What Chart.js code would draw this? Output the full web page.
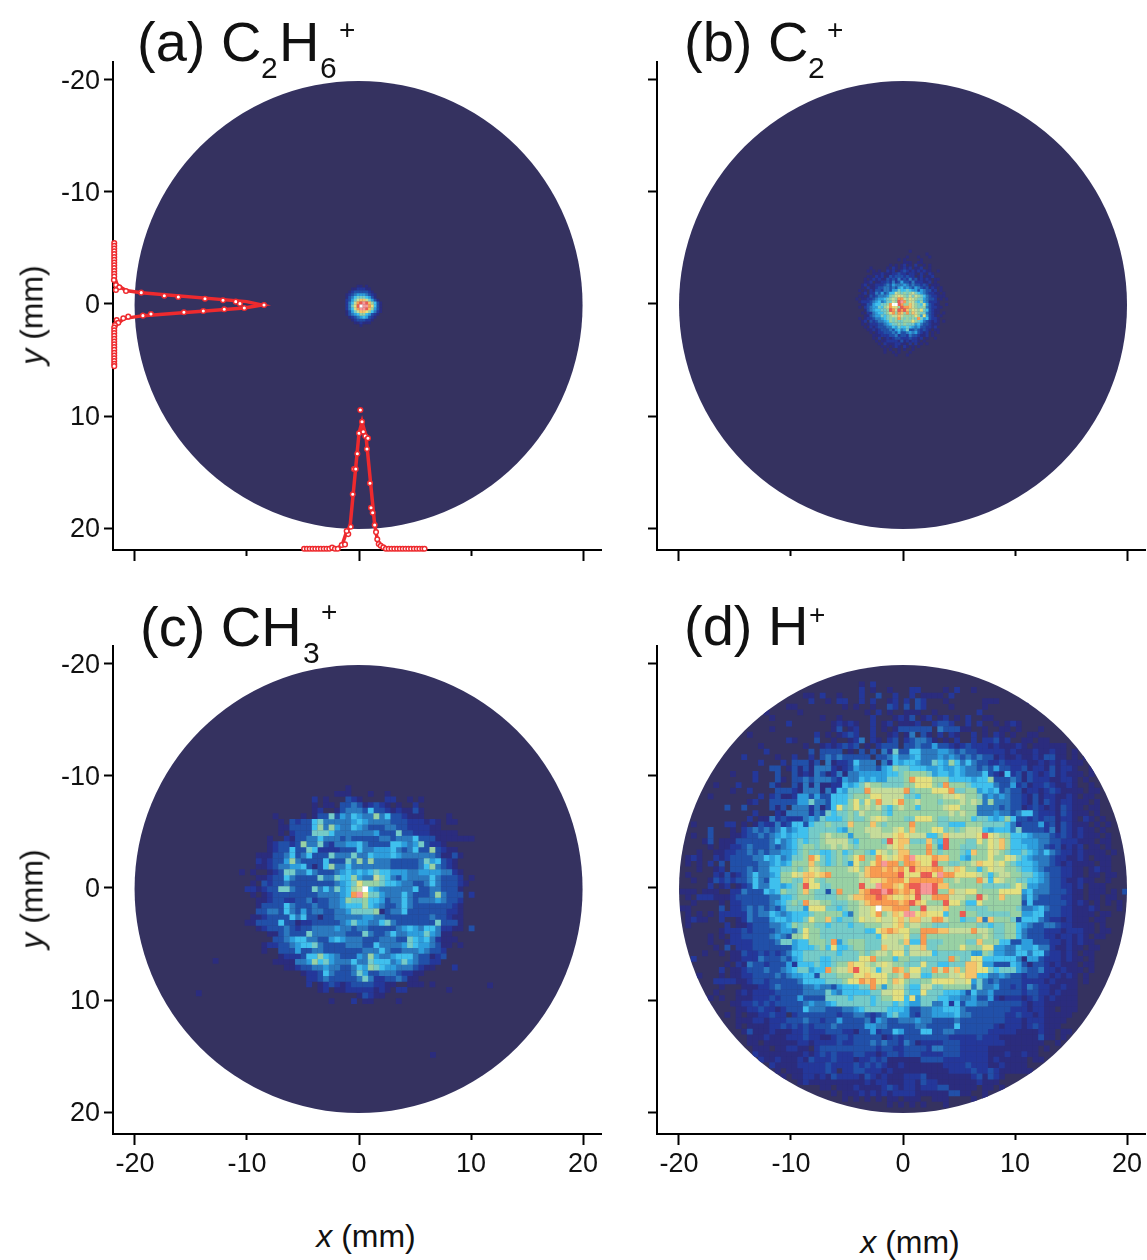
<!DOCTYPE html>
<html><head><meta charset="utf-8">
<style>
html,body{margin:0;padding:0;background:#fff;overflow:hidden;width:1147px;height:1260px;font-family:"Liberation Sans",Arial,sans-serif;color:#111}
canvas{position:absolute}
.t{position:absolute;white-space:pre;line-height:normal;z-index:5}
.r{position:absolute;white-space:pre;transform:translate(-50%,-50%) rotate(-90deg);font-size:32px;z-index:5}
.c{position:absolute;white-space:pre;transform:translate(-50%,-50%);font-size:32px;z-index:5}
</style>
<script src="https://cdn.jsdelivr.net/npm/chart.js@4/dist/chart.umd.js"></script>
</head><body>
<canvas id="pa"></canvas><canvas id="pb"></canvas><canvas id="pc"></canvas><canvas id="pd"></canvas>
<script>
const xTicks=[-20,-10,0,10,20];
const yTicks=[-20,-10,0,10,20];
const xMajorTicks=[-20,0,20];
const xMinorTicks=[-10,10];
const levelColors=["#353260","#2b2c7e","#24379a","#2150a9","#2b79bf","#2d9edd","#3fc0ee","#75cbc8","#98d1a4","#c6dc9a","#e4e07f","#f5c36a","#f89a50","#ec5c53","#f79898","#ffffff"];
const discColor=levelColors[0];
const redColor="#ee2a2e";

const heatA=[
"0000000000000000","0000001101000000","0000112221100000","0001233333210000",
"0012345554321000","0013467776531000","0023579bb9753100","002469cdedb86310",
"00247adfeeca6310","002469ceedb85310","0013579bba864210","0013456886532100",
"0001234565321000","0000123332210000","0000011211100000","0000000100000000"];

const heatB=[
"0000000000 0000000000 0100000000 000000000",
"0000000000 0000000000 0000000100 000000000",
"0000000000 0000000000 1000100010 000000000",
"0000000000 0000000101 0000010000 000000000",
"0000000000 0000000001 1100110000 000000000",
"0000000000 0000101012 0102001010 000000000",
"0000000100 0001021012 1201120010 000000000",
"0000001010 1002120123 2121212110 010000000",
"0000000011 1211122322 1221021021 000000000",
"0000001102 1201323332 3220120112 000000000",
"0000010121 2113232423 2423121210 110000000",
"0000011201 1223242353 3242221120 100000000",
"0000120112 2234354445 4343323201 110000000",
"0000102112 3344343564 5435432312 101000000",
"0001010213 3244355766 7655354331 201000000",
"0000120224 3534669878 7897654322 110100000",
"0001101323 4445789a98 7979876432 211100000",
"0010112234 5567898cc9 8a98775433 201010000",
"0001222345 6457798dec 8997685422 210000000",
"0000113356 6778cffdc8 8b98769532 110010000",
"0001023455 7689caa8dc cb98778432 211000000",
"0000013456 6778dc9dcd b8a98a7632 110000000",
"0000102245 6678ac8cb8 c8b9877432 110100000",
"0000011345 5767899b98 888a85a532 101000000",
"0001012234 4567878c87 8787c75632 210000000",
"0000120323 4456878778 88a8764321 210100000",
"0000101222 3345677878 7775643321 110000000",
"0000010212 3334465766 7654533221 200000000",
"0000001121 2333435645 7334323210 110000000",
"0000000101 2233343533 4545321201 010000000",
"0000000011 1222334233 2433211201 000000000",
"0000000010 2012123322 2322120100 100000000",
"0000000001 0112222131 2122101000 000000000",
"0000000000 1021112211 0202010100 000000000",
"0000000000 0101012102 1010100000 000000000",
"0000000000 0010100101 0010000000 000000000",
"0000000000 0010010100 0100000000 000000000",
"0000000000 0000001000 1000000000 000000000"];

const heatC=[
"0000000000 0000000001 0000000000 0000000000 000",
"0000000000 0000000111 0001001000 0000000000 000",
"0000000000 0002010003 2100002200 1010000000 000",
"0000000000 0001011033 4312321010 0200000000 000",
"0000000000 0001200134 4436332121 1310000000 000",
"0000001000 0101337354 6544846332 1110000100 000",
"0000000103 2336744444 5654444333 2221210110 000",
"0000000113 3336848544 6543334433 2222110000 000",
"0000000102 3337776444 4444533373 3222111110 000",
"0000010021 3344644434 3333344344 4633311111 110",
"0000012332 3844732445 5643333665 4573221000 000",
"0000012336 3376222233 3644555643 4633832110 000",
"0001113346 3463337444 7446555654 4444431131 000",
"0002123358 4333363337 4848444333 3347563210 000",
"0001123445 5631368446 4444444333 3346843210 000",
"1010012377 4464333456 5656766555 4455554421 000",
"0001123364 3333744766 8544976435 4444643332 010",
"0010323343 3333333456 7a88876654 4334643332 100",
"0221233774 3337464756 89f6544444 4633443331 000",
"0010123333 3333444456 cea7754446 4333484333 020",
"0001123322 3342334458 7786653446 4344454332 000",
"0001333364 3334334456 6686543346 4333333321 000",
"0003344364 3534433445 7777813446 3333333221 000",
"0011233336 4633133444 4455443333 3333433211 000",
"0113333633 1223333345 7554467433 3333373331 000",
"0001233343 2334444544 3443333345 6546642211 030",
"0000011343 3374444443 3374334644 5557541100 000",
"0000003345 6644335654 4433344433 7656421110 000",
"0000122334 5667433334 4433644445 7655431101 000",
"0000100333 5334433333 3344464334 4454332000 000",
"0000000122 2366865433 3548544566 6433123000 000",
"0000001111 4458675444 6447666457 5433220000 000",
"0000000011 2334454433 4658765544 4321100020 000",
"0000000000 0122364333 4753344432 2110000000 000",
"0000000000 0022343333 3474223343 1100000000 000",
"0000000000 0020123212 3333221100 1110100000 000",
"0000000000 0000120112 2222121022 0000000100 000",
"0000000000 0000000000 0132110000 0000000000 000",
"0000000000 0000001000 2011000010 0000000000 000"];
const outliersCx=[-14.3,-12.8,6.6,11.7];
const outliersCy=[9.4,6.5,14.9,8.7];

const heatD=[
"0000000000 0000000000 0000000000 0000000000 0000000000 0000000000 0000000000 0000000000",
"0000000000 0000000000 0000000000 0000000000 0000000000 0000000000 0000000000 0000000000",
"0000000000 0000000000 0000000000 0000000000 0000000000 0000000000 0000000000 0000000000",
"0000000000 0000000000 0000000000 0010200000 0000000000 0000000000 0000000000 0000000000",
"0000000000 0000000000 0000000000 0020100100 0220000102 0010000000 0000000000 0000000000",
"0000000000 0000000000 0011020010 0020030020 0201111020 0000000000 0000000000 0000000000",
"0000000000 0000000000 0002001022 0020200120 2032000100 0000111000 0010000000 0000000000",
"0000000000 0000000001 1000000001 0100100320 3032000010 0000100000 0000000000 0000000000",
"0000000000 0000010000 0100000000 0001020100 1110010000 0002000000 0000000000 0000000000",
"0000000000 0000001000 0000010010 0000200012 1301201201 0200110000 0000000000 0000000000",
"0000000000 0000000002 0000000121 2100201201 1120023320 0202001012 1000000000 0000000000",
"0000000000 0000001000 0000000130 1200201013 3333304333 1100100110 1000100000 0000000000",
"0000000000 0010000000 0000201012 3200200120 1403102021 0020102101 0011000000 0000000000",
"0000000000 0000000002 1000300100 1240210230 2344310102 0020223120 0110110000 0000000000",
"0000000000 0000100000 0010012123 2301023330 3343353321 2322212111 2101111110 0000000000",
"0000000000 0000020000 0003033330 1030304273 3664445543 4332222212 1112112110 1000000000",
"0000000000 0200000100 2002034343 3333033464 4564445454 3434331211 2112133110 1010000000",
"0000000000 0000200020 3331304122 3644404265 6654476586 4643322322 2211212121 1100000000",
"0000000000 0000003301 3131444212 3544435687 7666556556 5443435332 2312213122 1001010000",
"0000000001 0002000300 3121431241 4455555667 8888756656 5444632162 3132123121 1101000000",
"0000000000 0002000310 3343444325 4465655777 8caaa88866 6656683334 3132221122 1010000000",
"0000001000 2000003100 3141411226 5679887777 88aaa87c88 8766664335 2312232112 1001000000",
"0000000001 0020000333 2144414265 777c999999 c7888aaac7 7885656343 3122123211 1101100000",
"0000010000 0000202311 2553533666 7888aa9999 776888899a 9887454543 3213122112 1011000000",
"0000000000 0012003333 3557443666 8a7a8c99ac 8898887888 9898484443 3213132122 1110100000",
"0000000030 0300003130 44424136a7 8a89897689 88688889aa 8884444343 3123212132 1101100000",
"0000000000 0002000214 4442437677 8798887688 8888888898 9884445443 4663222132 1110100000",
"0000000000 0020114232 2245476667 87789a9888 77aaa87788 8867765686 3323233122 1021010000",
"0010000022 0101322423 6636778777 b888b87888 8c88887766 6888777764 2333523132 1110101000",
"0000030001 0234343464 5667777765 888999889a 8b888aa787 8999656664 7333324132 1211010000",
"0010030001 1233434565 6667789888 58889999ab a999668b99 999ada9886 6654443232 1211101000",
"0000130111 3333334645 6767789999 7688887dab b777b76d88 877a8a9b86 6555443322 2111011000",
"0000010112 2343334345 6788788989 87888889ab 9888c85d88 77788a9b86 6655432312 1201101000",
"0001001122 3343434455 6787766786 78876a989b b888c87888 76b88a9876 6765464322 1211110100",
"0121002123 3334465645 778ca76787 8ac88ca9ab ceaaacbb88 65888a88a9 7654443221 1210111000",
"0101020303 3333445656 888b876787 5a88acecc8 ccbaad8877 889baa9a87 6665443212 1111011000",
"0001001203 3343446677 878a988888 9a8bccbcbc adbbbcc99b a8868a9988 7665433322 1101211000",
"0100002131 2346445688 a9bbabc888 889bcccccd aaaddaecca aaa9868998 8776543322 1101101100",
"0010013232 3346436688 77ba878888 8899aabccc acccccc889 888c96a988 7766543321 1211001000",
"0000020120 1236446656 78daa77888 88d99eccba cddeedbb88 8888777778 a855443322 1201110000",
"1110111002 2433365687 78b87737c8 88bcddedcb cbdeed88b9 9aa8888aaa a564443332 1101110103",
"0102221112 3333334466 7888777788 9bbccdcbaa bad99ccc99 988d988b88 8464333322 1101101100",
"0010000102 2333334567 87c9988777 889bcccccb cdba888daa 866a888888 8363333332 1210101010",
"1100000302 2343434357 775aaa7767 8899afbbcc c88d999b88 8777788888 7445643322 1112100010",
"0101010222 2243446545 6667888886 4899ac89ba eeabaaa688 d887777778 8556633322 1111011000",
"0121100200 1243335665 667a88b767 78a99a99ab 9bb99cc988 677b4b8887 3666432212 1110110000",
"0100000020 1123334456 8788776777 67788899ab 8998877788 8887767788 6543344322 1111010000",
"0000000122 2323333455 47a8877777 77766abcba a88cccbb99 99c9987788 6433322212 2211011000",
"0000010102 2333334543 88a8877777 777776a999 a77c888888 8888987788 6433322122 1210110000",
"0000010012 2223333477 5668887c57 8887779998 b66c777888 877b888663 3553332212 1211000000",
"0000001030 2223333333 5666786a66 788777b999 799b778888 a888aa5544 6556442112 1101100000",
"0000100101 1322323234 6677777767 77878998aa 7999967777 7755875544 6646632212 1011000000",
"0020000001 1222433343 5677766777 77aac88868 87777777c8 77aa666666 4155322212 1101000000",
"0000000010 2143323335 2666766788 baa989a988 777a776677 7bba553336 5313321211 1011000000",
"0000000201 1233343345 677566c899 bdaa9699cb 8aa77c9c9b 8bbaa76777 5433422121 1101000000",
"0001000101 1223333434 5566377788 8aabaaa889 c996688899 abb6644543 3233221212 1010000000",
"0000002222 1123323333 3466667778 aacbcaa8ba 87788aaaa9 9a57434333 3222212111 1010000000",
"0000000100 0111223433 3344544356 6677c85899 7669977888 8847445332 3243221121 1000000000",
"0000001000 1212222333 3344447546 66667799aa 766a777666 5364453333 3233221211 1000000000",
"0000010100 1112223233 3533337777 67776788aa 6a57776655 4453352122 2123212111 1000000000",
"0000000001 1223232333 3345445677 7777677767 6557744626 3554433333 3212211111 1000000000",
"0000100000 1122322123 3364443334 4567777666 5334455666 4333333332 2212211011 1000000000",
"0000000010 1011223220 2333333323 3443234675 5324455556 4433333322 3221211111 0000000000",
"0000000000 1112212223 3343323353 3334254334 4454433334 3333333322 2122211110 0000000000",
"0000000000 1011112232 3232333433 3335544333 3344333336 3333332122 2123211100 0000000000",
"0000000000 0131112111 2232223332 2133523365 3336633443 3333322222 1111211011 0000000000",
"0000000000 0011121112 2232211233 2333331232 3333333322 2223222111 1111311010 0000000000",
"0000000000 0011011111 1221222232 2333434332 4312222333 2222222211 1111100100 0000000000",
"0000000000 0001110112 2110233333 3333323322 3333244333 2222211111 1111010000 0000000000",
"0000000000 0002111111 1121232322 2332212332 3332222333 2222211121 1211000000 0000000000",
"0000000000 0000211211 1213222322 2122323111 1113333222 2222212111 1101100100 0000000000",
"0000000000 0000002111 1222223222 2323232112 1111111222 2322211211 1100000000 0000000000",
"0000000000 0000000101 1122223202 2332221211 1111111122 2232232111 1110000000 0000000000",
"0000000000 0000000010 1122121322 2213212111 2223111111 1123132100 0000000000 0000000000",
"0000000000 0000000000 0121111111 1112122111 2213221111 1112111000 0000000000 0000000000",
"0000000000 0000000000 0000011011 1211112321 2212223311 1110110100 0000000000 0000000000",
"0000000000 0000000000 0000000101 1121212122 2211111133 1100100000 0000000000 0000000000",
"0000000000 0000000000 0000000001 0101010110 1110011100 0010100000 0000000000 0000000000",
"0000000000 0000000000 0000000000 0000000101 0101000100 0000000000 0000000000 0000000000"];

const sideXpts=[-21.85,-21.85,-21.85,-21.85,-21.85,-21.85,-21.85,-21.85,-21.85,-21.85,-21.85,-21.85,-21.85,-21.88,-21.7,-21.4,-21.7,-20.8,-19.44,-17.38,-16.13,-13.75,-12.14,-11.0,-10.63,-8.48,-10.24,-12.03,-13.9,-15.63,-18.57,-19.29,-20.6,-21.04,-21.63,-21.49,-21.79,-21.85,-21.85,-21.85,-21.85,-21.85,-21.85,-21.85,-21.85,-21.85,-21.85,-21.85,-21.85,-21.85,-21.85,-21.85];
const sideYpts=[-5.45,-5.2,-4.95,-4.7,-4.45,-4.2,-3.95,-3.7,-3.45,-3.2,-2.95,-2.7,-2.45,-2.14,-1.7,-1.49,-1.25,-1.16,-1.01,-0.74,-0.63,-0.47,-0.33,-0.21,-0.03,0.09,0.36,0.47,0.63,0.74,0.89,1.04,1.13,1.28,1.43,1.67,1.88,2.1,2.35,2.6,2.85,3.1,3.35,3.6,3.85,4.1,4.35,4.6,4.85,5.1,5.35,5.55];
const sideXfit=[-21.85,-21.85,-21.6,-20.8,-19.44,-10.03,-8.66,-10.24,-19.26,-21,-21.7,-21.85,-21.85];
const sideYfit=[-5.45,-2.6,-1.7,-1.2,-1.01,-0.21,0.09,0.36,1.04,1.3,1.9,2.6,5.55];
const baseXpts=[-4.9,-4.65,-4.4,-4.15,-3.9,-3.65,-3.4,-3.15,-2.9,-2.65,-2.4,-2.15,-1.9,-1.54,-1.25,-0.96,-1.1,-0.74,-0.56,-0.45,-0.29,-0.15,0,0.27,0.12,0.38,0.56,0.8,0.71,0.98,1.07,1.22,1.4,1.52,1.63,1.76,1.94,2.17,2.4,2.65,2.9,3.15,3.4,3.65,3.9,4.15,4.4,4.65,4.9,5.15,5.4,5.65,5.85];
const baseYpts=[21.85,21.85,21.85,21.85,21.85,21.85,21.85,21.85,21.85,21.85,21.75,21.85,21.85,21.52,21.46,20.54,20.27,19.88,16.99,14.73,14.73,13.37,11.54,10.51,9.46,11.4,11.79,11.99,12.95,16.0,18.19,18.63,19.73,20.36,21.0,21.43,21.58,21.72,21.85,21.85,21.85,21.85,21.85,21.85,21.85,21.85,21.85,21.85,21.85,21.85,21.85,21.85,21.85];
const baseXfit=[-4.9,-2,-1.5,-1.1,-0.8,0,0.27,0.63,1.4,1.63,1.9,2.4,5.85];
const baseYfit=[21.85,21.85,21.5,20.3,19.88,11.54,10.51,11.85,19.73,21,21.58,21.85,21.85];

const pxPerMm=11.2, discRadiusMm=20, axisMinLow=-21.96, axisMaxHigh=21.6, axisMinTop=-21.6, axisMaxBottom=21.96;
const tickFont={family:'"Liberation Sans",Arial,sans-serif',size:27};

const circleClip={id:'circleClip',
  beforeDatasetDraw(chart,args){
    const d=chart.data.datasets[args.index];
    if(!d.discClip)return;
    const c=chart.ctx,x=chart.scales.x,y=chart.scales.y;
    c.save();c.beginPath();
    c.arc(x.getPixelForValue(d.discClip[0]),y.getPixelForValue(d.discClip[1]),discRadiusMm*pxPerMm,0,Math.PI*2);
    c.clip();
  },
  afterDatasetDraw(chart,args){
    const d=chart.data.datasets[args.index];
    if(d.discClip)chart.ctx.restore();
  }};

function heatDatasets(rows,stepMm,startCol,startRow,center,extra){
  const byLevel=levelColors.map(()=>[]);
  rows.forEach((row,r)=>{
    const s=row.replace(/\s/g,'');
    for(let c=0;c<s.length;c++){
      const lv=parseInt(s[c],16);
      if(lv>0)byLevel[lv].push({x:-20+(startCol+c+.5)*stepMm,y:-20+(startRow+r+.5)*stepMm});
    }
  });
  if(extra)extra.x.forEach((v,i)=>byLevel[1].push({x:v,y:extra.y[i]}));
  const side=(stepMm*pxPerMm+0.25)/Math.SQRT2;
  return byLevel.map((pts,lv)=>({data:pts,showLine:false,pointStyle:'rect',pointRadius:side,pointBorderWidth:0,
    pointBackgroundColor:levelColors[lv],discClip:center,clip:false,order:50-lv})).filter(d=>d.data.length);
}
function zipXY(xs,ys){return xs.map((v,i)=>({x:v,y:ys[i]}));}

function makeChart(id,left,top,showX,showY,rows,step,startCol,startRow,center,extra,lines){
  const el=document.getElementById(id);
  const W=620,H=600;
  el.width=W;el.height=H;
  el.style.left=left+'px';el.style.top=top+'px';el.style.width=W+'px';el.style.height=H+'px';
  const disc={data:[{x:center[0],y:center[1]}],showLine:false,pointStyle:'circle',pointRadius:discRadiusMm*pxPerMm,pointBorderWidth:0,
    pointBackgroundColor:discColor,clip:false,order:100};
  new Chart(el,{type:'scatter',plugins:[circleClip],
    data:{datasets:[disc,...heatDatasets(rows,step,startCol,startRow,center,extra),...lines]},
    options:{responsive:false,animation:false,events:[],devicePixelRatio:1,
      layout:{autoPadding:false,padding:{left:0,top:62,right:19,bottom:0}},
      plugins:{legend:{display:false},title:{display:false},tooltip:{enabled:false}},
      scales:{
        x:{type:'linear',min:axisMinLow,max:axisMaxHigh,
          afterBuildTicks:s=>{s.ticks=xTicks.map(v=>({value:v}));},
          afterFit:s=>{s.height=50;},
          border:{color:'#000',width:2},
          grid:{drawOnChartArea:false,drawTicks:true,tickLength:11,tickWidth:2,
            tickColor:c=>xMajorTicks.includes(c.tick&&c.tick.value)?'#000':'rgba(0,0,0,0)'},
          ticks:{display:showX,autoSkip:false,maxRotation:0,color:'#111',font:tickFont,padding:3,callback:v=>String(v)}},
        xMinor:{type:'linear',axis:'x',min:axisMinLow,max:axisMaxHigh,position:{y:axisMaxBottom},
          afterBuildTicks:s=>{s.ticks=xMinorTicks.map(v=>({value:v}));},
          border:{display:false},
          grid:{drawOnChartArea:false,drawTicks:true,tickLength:6,tickWidth:2,tickColor:'#000'},
          ticks:{display:false}},
        y:{type:'linear',reverse:true,min:axisMinTop,max:axisMaxBottom,
          afterBuildTicks:s=>{s.ticks=yTicks.map(v=>({value:v}));},
          afterFit:s=>{s.width=113;},
          border:{color:'#000',width:2},
          grid:{drawOnChartArea:false,drawTicks:true,tickLength:9,tickWidth:2,tickColor:'#000'},
          ticks:{display:showY,autoSkip:false,color:'#111',font:tickFont,padding:4,labelOffset:2,callback:v=>String(v)}}
      }}});
}
const profileLines=[
 {data:zipXY(sideXfit,sideYfit),showLine:true,borderColor:redColor,borderWidth:3.5,pointRadius:0,clip:false,order:3},
 {data:zipXY(baseXfit,baseYfit),showLine:true,borderColor:redColor,borderWidth:3.5,pointRadius:0,clip:false,order:3},
 {data:zipXY(sideXpts,sideYpts),showLine:false,pointRadius:2.3,pointBorderWidth:1.5,pointBorderColor:redColor,pointBackgroundColor:'#fff',clip:false,order:1},
 {data:zipXY(baseXpts,baseYpts),showLine:false,pointRadius:2.3,pointBorderWidth:1.5,pointBorderColor:redColor,pointBackgroundColor:'#fff',clip:false,order:1}
];
makeChart('pa',0,0,false,true,heatA,0.25,73.2,72.2,[-0.04,0.09],null,profileLines);
makeChart('pb',544,0,false,false,heatB,0.25,61.07,60.7,[0,0.09],null,[]);
makeChart('pc',0,584,true,true,heatC,0.5,18.6,21.7,[-0.04,0.09],{x:outliersCx,y:outliersCy},[]);
makeChart('pd',544,584,true,false,heatD,0.5,0.15,0.15,[0,0.09],null,[]);

function txt(s,left,base,size){
  const d=document.createElement('div');d.className='t';d.textContent=s;
  d.style.left=left+'px';d.style.top=(base-0.905*size)+'px';d.style.fontSize=size+'px';
  document.body.appendChild(d);
}
const labelTexts=[
 ["(a) C",137,60,56],["2",261,78,30],["H",279,60,56],["6",320,78,30],["+",339,39,28],
 ["(b) C",684,60,56],["2",808,78,30],["+",827,39,28],
 ["(c) CH",140,645,56],["3",303,663,30],["+",321,621,28],
 ["(d) H",684,644,56],["+",809,624,28]];
labelTexts.forEach(t=>txt(...t));
[[32,315],[32,899]].forEach(([x,y])=>{
  const d=document.createElement('div');d.className='r';d.innerHTML='<i>y</i> (mm)';
  d.style.left=x+'px';d.style.top=y+'px';document.body.appendChild(d);});
[[366,1236],[910,1242]].forEach(([x,y])=>{
  const d=document.createElement('div');d.className='c';d.innerHTML='<i>x</i> (mm)';
  d.style.left=x+'px';d.style.top=y+'px';document.body.appendChild(d);});
</script>
</body></html>
